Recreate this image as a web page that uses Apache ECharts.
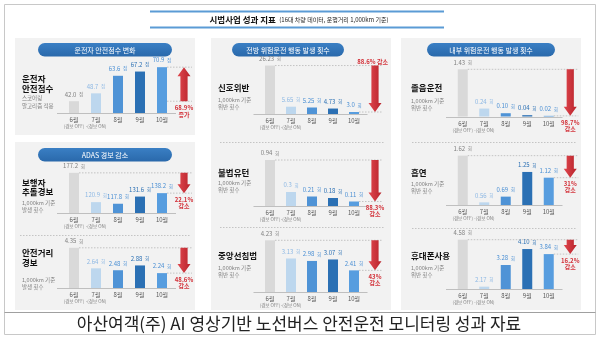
<!DOCTYPE html>
<html>
<head>
<meta charset="utf-8">
<script src="https://cdn.jsdelivr.net/npm/echarts@6/dist/echarts.min.js"></script>
<style>
html,body{margin:0;padding:0;background:#fff}
#main{width:600px;height:338px}
</style>
</head>
<body>
<div id="main"></div>
<script>
// ---- data ----
const months = ['6월', '7월', '8월', '9월', '10월'];
const monthNotes = ['(경보 OFF)', '-(경보 ON)', '', '', ''];

const safetyScore     = ['42.0', '48.7', '63.6', '67.2', '70.9'];
const pedestrianAlert = ['177.2', '120.9', '117.8', '131.6', '138.2'];
const distanceAlert   = ['4.35', '2.64', '2.48', '2.88', '2.24'];
const signalViolation = ['26.23', '5.65', '5.25', '4.73', '3.0'];
const illegalUturn    = ['0.94', '0.3', '0.21', '0.18', '0.11'];
const centerLine      = ['4.23', '3.13', '2.98', '3.07', '2.41'];
const drowsyDriving   = ['1.43', '0.24', '0.10', '0.04', '0.02'];
const smoking         = ['1.62', '0.56', '0.69', '1.25', '1.12'];
const phoneUse        = ['4.58', '2.17', '3.28', '4.10', '3.84'];

const changeRates = ['68.9%', '22.1%', '48.6%', '88.6%', '88.3%', '43%', '98.7%', '31%', '16.2%'];
const changeWords = ['증가', '감소', '감소', '감소', '감소', '감소', '감소', '감소', '감소'];

// ---- look ----
const FONT = 'Noto Sans CJK KR';
const barColors = ['#d9d9d9', '#bdd7ee', '#4f93d6', '#2b70b4', '#579ddf'];
const labelColors = ['#808080', '#8db8e4', '#4a8fd4', '#2b70b4', '#4a8fd4'];
const RED = '#d3323a';

const charts = [
  { values: safetyScore, unit: '점', name: ['운전자', '안전점수'], note: ['스코어링', '알고리즘 적용'],
    tx: 22, ny: [79, 89], dy: [98, 106], grid: { left: 63, top: 60, width: 132, height: 53 }, min: 32, max: 77 },
  { values: pedestrianAlert, unit: '회', name: ['보행자', '추돌경보'], note: ['1,000km 기준', '발생 횟수'],
    tx: 22, ny: [183, 192], dy: [202.5, 209.5], grid: { left: 63, top: 161, width: 132, height: 52 }, min: 100, max: 200 },
  { values: distanceAlert, unit: '회', name: ['안전거리', '경보'], note: ['1,000km 기준', '발생 횟수'],
    tx: 22, ny: [253, 263], dy: [280, 287], grid: { left: 63, top: 240, width: 132, height: 48 }, min: 1, max: 5 },
  { values: signalViolation, unit: '회', name: ['신호위반'], note: ['1,000km 기준', '위반 횟수'], labelAbove: true,
    tx: 218, ny: [88], dy: [100, 106.5], grid: { left: 259.5, top: 62, width: 126, height: 52 }, min: 2, max: 28 },
  { values: illegalUturn, unit: '회', name: ['불법유턴'], note: ['1,000km 기준', '위반 횟수'],
    tx: 218, ny: [173], dy: [183, 189.5], grid: { left: 259.5, top: 154, width: 126, height: 52 }, min: 0.02, max: 1.06 },
  { values: centerLine, unit: '회', name: ['중앙선침범'], note: ['1,000km 기준', '위반 횟수'],
    tx: 218, ny: [256], dy: [268, 274.5], grid: { left: 259.5, top: 237.5, width: 126, height: 54.5 }, min: 1.1, max: 4.4 },
  { values: drowsyDriving, unit: '회', name: ['졸음운전'], note: ['1,000km 기준', '위반 횟수'],
    tx: 411, ny: [88], dy: [101, 107.5], grid: { left: 452, top: 64.5, width: 129, height: 52 }, min: 0, max: 1.576 },
  { values: smoking, unit: '회', name: ['흡연'], note: ['1,000km 기준', '위반 횟수'],
    tx: 411, ny: [173], dy: [184, 190.5], grid: { left: 452, top: 153, width: 129, height: 52 }, min: 0.5, max: 1.68 },
  { values: phoneUse, unit: '회', name: ['휴대폰사용'], note: ['1,000km 기준', '위반 횟수'],
    tx: 411, ny: [256], dy: [268, 274.5], grid: { left: 452, top: 235, width: 129, height: 54 }, min: 2.05, max: 4.82 }
];

const chart = echarts.init(document.getElementById('main'), null, { renderer: 'canvas' });

const option = {
  animation: false,
  backgroundColor: '#fff',
  textStyle: { fontFamily: FONT },
  grid: charts.map(c => Object.assign({ containLabel: false }, c.grid)),
  xAxis: charts.map((c, i) => ({
    type: 'category',
    gridIndex: i,
    data: months.concat(['']),
    axisLine: { show: false },
    axisTick: { show: false },
    axisLabel: {
      interval: 0,
      margin: 3.5,
      formatter: (val, idx) => {
        if (idx > 4) return '';
        return monthNotes[idx] ? `{m|${val}}\n{s|${monthNotes[idx]}}` : `{m|${val}}`;
      },
      rich: {
        m: { fontSize: 6, color: '#595959', lineHeight: 7, fontFamily: FONT },
        s: { fontSize: 4.5, color: '#808080', lineHeight: 6, fontFamily: FONT }
      }
    }
  })),
  yAxis: charts.map((c, i) => ({
    type: 'value', gridIndex: i, min: c.min, max: c.max, show: false, splitLine: { show: false }
  })),
  series: charts.map((c, i) => ({
    type: 'bar',
    xAxisIndex: i,
    yAxisIndex: i,
    barWidth: 10,
    clip: true,
    z: 3,
    data: c.values.map((v, j) => ({
      value: parseFloat(v),
      itemStyle: { color: barColors[j] },
      label: {
        show: true,
        position: 'top',
        distance: 1,
        formatter: `{v|${v}} {u|${c.unit}}`,
        rich: {
          v: { fontSize: 6, color: labelColors[j], fontFamily: FONT },
          u: { fontSize: 4.5, color: labelColors[j], fontFamily: FONT }
        }
      }
    }))
  }))
};

chart.setOption(option);

// ---- decorations built from the axes ----
const g = [];
const txt = (text, x, y, size, color, weight, align, z) => g.push({
  type: 'text', z: z || 20,
  style: { text, x, y, fill: color, fontSize: size, fontWeight: weight || 'normal',
           fontFamily: FONT, align: align || 'left', verticalAlign: 'middle' }
});
const line = (x1, y1, x2, y2, stroke, width, dash, z) => g.push({
  type: 'line', z: z || 5,
  shape: { x1, y1, x2, y2 },
  style: { stroke, lineWidth: width, lineDash: dash || null }
});

// frame and caption box
g.push({ type: 'rect', z: -10, shape: { x: 4.5, y: 4.5, width: 591, height: 330 },
         style: { fill: '#fff', stroke: '#c8c8c8', lineWidth: 1 } });
line(4.5, 312.5, 595.5, 312.5, '#a0a0a0', 1, null, -9);
txt('아산여객(주) AI 영상기반 노선버스 안전운전 모니터링 성과 자료', 299, 324, 17, '#222', 'normal', 'center');

// heading
line(150, 11.5, 444, 11.5, '#5b9bd5', 2);
line(150, 27.5, 444, 27.5, '#5b9bd5', 2);
g.push({
  type: 'text', z: 20,
  style: {
    text: '{a|시범사업 성과 지표} {b|(16대 차량 데이터, 운행거리 1,000km 기준)}',
    x: 299, y: 19.5, align: 'center', verticalAlign: 'middle',
    rich: {
      a: { fontSize: 8.5, fontWeight: 'bold', fill: '#111', fontFamily: FONT },
      b: { fontSize: 6, fill: '#222', fontFamily: FONT }
    }
  }
});

// panels
[[15, 38, 180, 97], [15, 142, 180, 168], [211, 38, 180, 272], [401, 38, 180, 272]].forEach(p => {
  g.push({ type: 'rect', z: -8, shape: { x: p[0], y: p[1], width: p[2], height: p[3] },
           style: { fill: '#f2f2f2' } });
});

// section pills
[['운전자 안전점수 변화', 38, 43, 134], ['ADAS 경보 감소', 38, 148, 134],
 ['전방 위험운전 행동 발생 횟수', 232, 43, 112], ['내부 위험운전 행동 발생 횟수', 427, 43, 128]].forEach(p => {
  g.push({ type: 'rect', z: 1, shape: { x: p[1], y: p[2], width: p[3], height: 13.5, r: 6.75 },
           style: { fill: new echarts.graphic.LinearGradient(0, 0, 0, 1,
             [{ offset: 0, color: '#3a7fc4' }, { offset: 1, color: '#2a69ab' }]) } });
  txt(p[0], p[1] + p[3] / 2, p[2] + 7, 7, '#fff', 'normal', 'center', 2);
});

// dotted row separators
line(20, 235.5, 190, 235.5, '#c4c4c4', 1, [1.5, 1.5]);
line(220, 142.5, 384, 142.5, '#c4c4c4', 1, [1.5, 1.5]);
line(220, 227.5, 384, 227.5, '#c4c4c4', 1, [1.5, 1.5]);
line(412, 142.5, 576, 142.5, '#c4c4c4', 1, [1.5, 1.5]);
line(412, 228.5, 576, 228.5, '#c4c4c4', 1, [1.5, 1.5]);

charts.forEach((c, i) => {
  const px = (x, y) => chart.convertToPixel({ gridIndex: i }, [x, y]);
  const v = c.values.map(parseFloat);
  const v0 = v[0], v4 = v[4];
  const ax = px(5, v0)[0];
  const y0 = px(5, v0)[1];
  const y4 = px(5, v4)[1];
  const x0 = px(0, v0)[0];
  const x4 = px(4, v4)[0];
  const step = px(1, v0)[0] - x0;
  const yb = px(0, c.min)[1];
  const rising = v4 > v0;

  // baseline under the bars
  line(c.grid.left - 6, Math.round(yb) + 0.5, x4 + step / 2 + 3, Math.round(yb) + 0.5, '#bfbfbf', 1, null, 4);

  // dotted reference levels
  line(rising ? x4 + 5 : x0 + 5, y0, ax + 8, y0, '#b8b8b8', 0.8, [1.5, 1.5]);
  line(x4 + 5, y4, ax + 8, y4, '#b8b8b8', 0.8, [1.5, 1.5]);

  // block arrow from the June level to the October level
  const sw = 3.6, hw = 6.5, hl = 9;
  const dir = rising ? -1 : 1;
  const yStart = y0, yTip = y4;
  const yNeck = yTip - dir * hl;
  g.push({
    type: 'polygon', z: 8,
    shape: { points: [[ax - sw, yStart], [ax + sw, yStart], [ax + sw, yNeck], [ax + hw, yNeck],
                      [ax, yTip], [ax - hw, yNeck], [ax - sw, yNeck]] },
    style: { fill: new echarts.graphic.LinearGradient(0, 0, 1, 0,
      [{ offset: 0, color: '#e0474e' }, { offset: 1, color: '#b8232b' }]) }
  });

  // change rate text
  if (c.labelAbove) {
    txt(changeRates[i] + ' ' + changeWords[i], ax + 13, y0 - 4, 6, RED, 'bold', 'right');
  } else if (rising) {
    txt(changeRates[i], ax, y0 + 6.5, 6, RED, 'bold', 'center');
    txt(changeWords[i], ax, y0 + 13, 6, RED, 'bold', 'center');
  } else {
    txt(changeRates[i], ax, y4 + 6.5, 6, RED, 'bold', 'center');
    txt(changeWords[i], ax, y4 + 12.5, 6, RED, 'bold', 'center');
  }

  // row titles
  c.name.forEach((t, k) => txt(t, c.tx, c.ny[k], 8.5, '#111', 'bold', 'left'));
  c.note.forEach((t, k) => txt(t, c.tx, c.dy[k], 5.5, '#7f7f7f', 'normal', 'left'));
});

chart.setOption({ graphic: { elements: g } });
</script>
</body>
</html>
